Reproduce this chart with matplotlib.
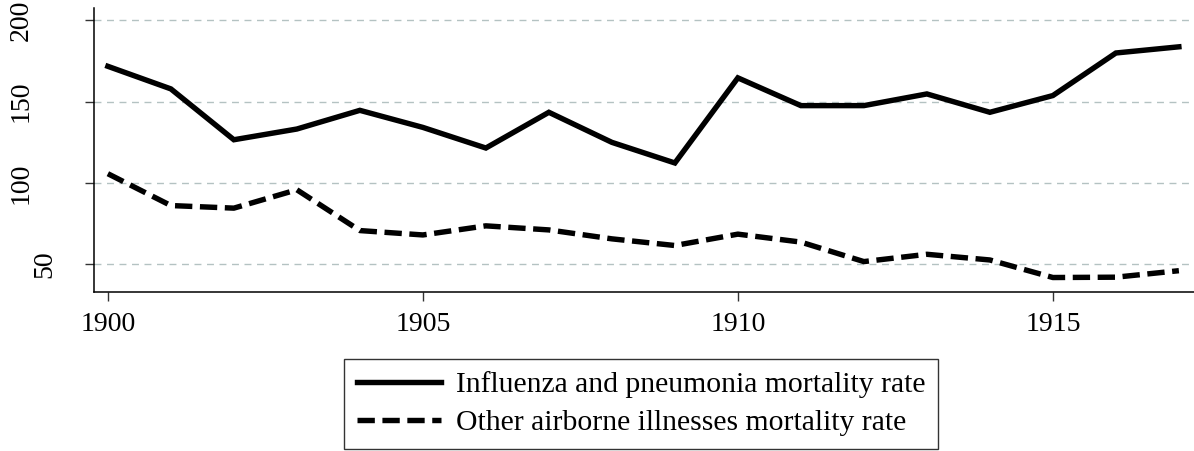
import matplotlib
matplotlib.use("Agg")
import matplotlib.pyplot as plt
from matplotlib.transforms import ScaledTranslation

years = list(range(1900, 1918))
influenza = [171.8, 157.9, 126.6, 133.2, 144.7, 134.2, 121.5, 143.5, 125.0, 112.3,
             164.7, 147.6, 147.6, 154.8, 143.5, 153.8, 180.0, 183.8]
other = [105.7, 86.1, 84.5, 95.8, 70.7, 68.0, 73.6, 71.1, 65.6, 61.5,
         68.5, 63.6, 51.6, 56.1, 52.6, 41.8, 42.0, 46.0]
series_labels = ["Influenza and pneumonia mortality rate",
                 "Other airborne illnesses mortality rate"]
x_ticks = [1900, 1905, 1910, 1915]
y_ticks = [50, 100, 150, 200]

plt.rcParams['font.family'] = ['Liberation Serif', 'DejaVu Serif']

fig = plt.figure(figsize=(11.94, 4.51), dpi=100)
ax = fig.add_axes([94/1194, 1-292.3/451, 1-94/1194, (292.3-7.5)/451])

ax.plot(years, influenza, color='black', lw=3.9, solid_joinstyle='miter',
        label=series_labels[0])
ax.plot(years, other, color='black', lw=3.9, linestyle=(0, (3.2, 1.4)),
        label=series_labels[1])

ax.set_xlim(1899.78, 1917.24)
ax.set_ylim(32.7, 208)
ax.set_xticks(x_ticks)
ax.set_xticklabels([str(t) for t in x_ticks])
ax.set_yticks(y_ticks)
ax.set_yticklabels([str(t) for t in y_ticks], rotation=90, va='center', ha='center')

for y in y_ticks:
    ax.axhline(y, color='#b4c2c2', lw=1.0, ls=(0, (5, 4)), zorder=0)

for s in ['top', 'right']:
    ax.spines[s].set_visible(False)
for s in ['left', 'bottom']:
    ax.spines[s].set_linewidth(1.1)
    ax.spines[s].set_color('black')

ax.tick_params(axis='both', direction='out', length=6.5, width=1.0, color='#333333',
               labelsize=20)
ax.tick_params(axis='x', pad=8)
ax.tick_params(axis='y', pad=46)

# Shift shorter y labels toward the axis (as in the reference layout)
for lab, t in zip(ax.get_yticklabels(), y_ticks):
    if len(str(t)) < 3:
        lab.set_transform(lab.get_transform() +
                          ScaledTranslation(0.235, 0, fig.dpi_scale_trans))

leg = fig.legend(loc='center', bbox_to_anchor=(0.537, 0.105), fontsize=21.3,
                 frameon=True, fancybox=False, edgecolor='black',
                 handlelength=2.85, handletextpad=0.5, borderpad=0.42,
                 labelspacing=0.38, borderaxespad=0)
leg.get_frame().set_linewidth(1.0)

fig.savefig('out.png', dpi=100)
